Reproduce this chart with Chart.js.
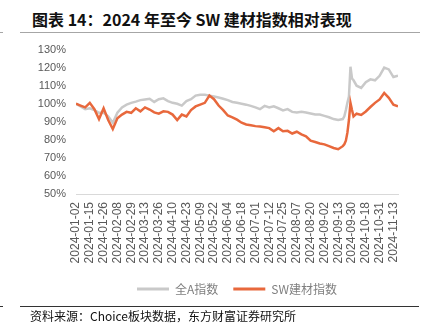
<!DOCTYPE html>
<html>
<head>
<meta charset="utf-8">
<script src="https://cdn.jsdelivr.net/npm/chart.js@4/dist/chart.umd.min.js"></script>
<style>
  body { margin:0; width:429px; height:332px; background:#fff; position:relative; overflow:hidden;
         font-family:"Noto Sans CJK SC", sans-serif; }
  #title { position:absolute; left:32px; top:11px; font-size:16px; line-height:16px; font-weight:bold; color:#111; white-space:nowrap; }
  .rule { position:absolute; height:1px; }
  #box { position:absolute; left:0; top:33px; width:429px; height:274px; }
  #src { position:absolute; left:30px; top:310px; font-size:12px; line-height:12px; color:#111; white-space:nowrap; }
</style>
</head>
<body>
<div id="title">图表 14：2024 年至今 SW 建材指数相对表现</div>
<div class="rule" style="left:20px;top:32px;width:400px;background:#a6a6a6;"></div>
<div class="rule" style="left:0;top:32px;width:3px;background:#a6a6a6;"></div>
<div id="box"><canvas id="perfChart"></canvas></div>
<div class="rule" style="left:20px;top:306px;width:399px;background:#333;"></div>
<div class="rule" style="left:0;top:306px;width:3px;background:#333;"></div>
<div id="src">资料来源：Choice板块数据，东方财富证券研究所</div>

<script>
const tickLabels = ['2024-01-02','2024-01-15','2024-01-26','2024-02-08','2024-02-29','2024-03-13',
  '2024-03-26','2024-04-10','2024-04-23','2024-05-09','2024-05-22','2024-06-04','2024-06-18',
  '2024-07-01','2024-07-12','2024-07-25','2024-08-07','2024-08-20','2024-09-02','2024-09-13',
  '2024-09-30','2024-10-18','2024-10-31','2024-11-13'];

// trading-day index of each point (tick labels sit every 9 trading days)
const days = [0,3,6,9,12,15,18,21,24,27,30,33,36,39,42,45,48,51,54,57,60,63,66,69,72,75,78,81,84,87,
  90,93,96,99,102,105,108,111,114,117,120,123,126,129,132,135,138,141,144,147,150,153,156,159,162,165,
  168,171,174,175,176,177,178,179,180,181,183,186,189,192,195,198,201,204,207,210];

const allA = [100,98.5,97,97.5,96.5,95,95,93,89.5,95,98,99.5,100.5,101.2,102,102.4,102.8,101,102.5,103,
  101.5,100.5,100,99,101.5,102.5,104.5,105,105,104.5,104,103.5,102.8,102,101,100.5,100,99.5,98.8,98,
  97,98.8,98,98.6,97.5,96.3,97,95.5,95.2,95.5,95.2,94.6,94,94,93.3,92.5,91.5,91,91.5,93,
  96.5,100.5,104,120.5,114,113,110,108.8,111.9,113.5,113,115.5,120,119,114.8,115.5];

const swBuild = [100,99,98,100.5,97,91.5,97.5,91,86,92,94,95.5,95,97.5,95.8,98,96.8,95.2,94.5,95.8,
  95.5,94,91,94,93,96.5,98.5,99.5,100.5,104.5,102.5,99,96.5,93.5,92.5,91.2,89.5,88.5,88.1,87.6,
  87.4,87,86.5,84.8,86.5,84.8,85,83.5,84.5,83,82,79.5,78.8,78,77.5,76.5,75.5,74.8,76.5,77.5,
  79.5,84,91,100.5,96.5,93,94.5,93.8,95.7,98.2,100.5,102.4,106,103.3,99.5,98.6];

const tickDays = tickLabels.map((_, i) => i * 9);
const toPoints = vals => days.map((d, i) => ({ x: d, y: vals[i] }));

new Chart(document.getElementById('perfChart'), {
  type: 'line',
  data: {
    datasets: [
      { label: '全A指数', data: toPoints(allA), borderColor: '#c9c9c9', backgroundColor: '#c9c9c9',
        borderWidth: 2.5, pointRadius: 0, tension: 0, order: 1 },
      { label: 'SW建材指数', data: toPoints(swBuild), borderColor: '#e8683c', backgroundColor: '#e8683c',
        borderWidth: 2.5, pointRadius: 0, tension: 0, order: 0 }
    ]
  },
  options: {
    responsive: true,
    maintainAspectRatio: false,
    animation: false,
    layout: { padding: { left: 10, right: 31, top: 3, bottom: 2 } },
    plugins: {
      tooltip: { enabled: false },
      legend: {
        position: 'bottom',
        fullSize: false,
        labels: {
          boxWidth: 32, boxHeight: 3, padding: 15, color: '#7f7f7f',
          font: { size: 12, family: '"Noto Sans CJK SC", sans-serif' },
          sort: (a, b) => a.datasetIndex - b.datasetIndex,
          generateLabels: chart => Chart.defaults.plugins.legend.labels.generateLabels(chart)
            .map(l => Object.assign(l, { lineWidth: 0, fillStyle: l.strokeStyle }))
        }
      }
    },
    scales: {
      x: {
        type: 'linear', min: 0, max: 210,
        grid: { display: false, drawTicks: false },
        border: { display: true, color: '#d9d9d9', width: 1 },
        afterBuildTicks: s => { s.ticks = tickDays.map(v => ({ value: v })); },
        afterFit: s => { s.height = 74; },
        ticks: {
          autoSkip: false, minRotation: 90, maxRotation: 90, padding: 8, color: '#595959',
          font: { size: 12, family: '"Liberation Sans", Arial, sans-serif' },
          callback: v => tickLabels[tickDays.indexOf(v)] || ''
        }
      },
      y: {
        min: 50, max: 130,
        grid: { display: false, drawTicks: false },
        border: { display: false },
        afterFit: s => { s.width = 66; },
        ticks: {
          autoSkip: false, stepSize: 10, padding: 10, color: '#595959',
          font: { size: 11, family: '"Liberation Sans", Arial, sans-serif' },
          callback: v => v + '%'
        }
      }
    }
  }
});
</script>
</body>
</html>
